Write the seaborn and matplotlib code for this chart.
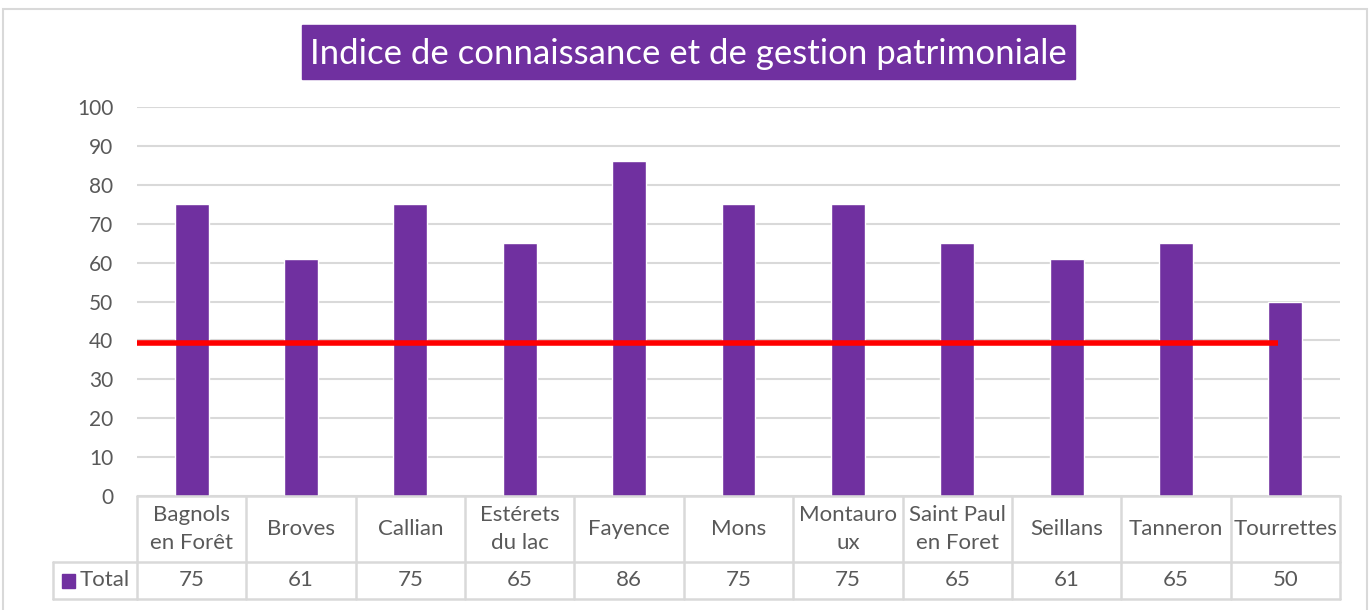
import matplotlib
matplotlib.use("Agg")
import matplotlib.pyplot as plt
import matplotlib.transforms as mtransforms
from matplotlib.patches import Rectangle
import seaborn as sns
import pandas as pd

# ---- data ----
categories = ["Bagnols\nen Forêt", "Broves", "Callian", "Estérets\ndu lac", "Fayence",
              "Mons", "Montauro\nux", "Saint Paul\nen Foret", "Seillans", "Tanneron", "Tourrettes"]
totals = [75, 61, 75, 65, 86, 75, 75, 65, 61, 65, 50]
threshold = 39.3
series_name = "Total"
title = "Indice de connaissance et de gestion patrimoniale"
yticks = [0, 10, 20, 30, 40, 50, 60, 70, 80, 90, 100]

purple = "#7030A0"
grid_c = "#D9D9D9"
text_c = "#595959"

sns.set_theme(style="white")
plt.rcParams['font.family'] = ['Lato', 'DejaVu Sans']

W, H = 1371, 610
fig = plt.figure(figsize=(W / 100, H / 100), dpi=100)
ax = fig.add_axes([137 / W, 1 - 496 / H, (1340 - 137) / W, (496 - 107) / H])

df = pd.DataFrame({"cat": categories, "val": totals})
sns.barplot(data=df, x="cat", y="val", color=purple, width=0.31, ax=ax,
            saturation=1, zorder=3)
ax.hlines(threshold, -0.53, len(categories) - 1 - 0.07, color="#FF0000", lw=4, zorder=4)

ax.set_ylim(0, 100)
ax.set_xlim(-0.5, len(categories) - 0.5)
ax.set_yticks(yticks)
ax.set_yticklabels([str(t) for t in yticks], fontsize=15, color=text_c)
ax.tick_params(axis="y", length=0, pad=17)
ax.set_xticks([])
ax.set_xlabel("")
ax.set_ylabel("")
for s in ax.spines.values():
    s.set_visible(False)
ax.yaxis.grid(True, color=grid_c, lw=1.5, zorder=0)
ax.set_axisbelow(True)

# ---- data table below ----
ph = 496 - 107
r1 = -(562 - 496) / ph
r2 = -(599 - 496) / ph
blend = mtransforms.blended_transform_factory(ax.transData, ax.transAxes)
n = len(categories)
lw_t = 1.8
fs = 16
# horizontal lines
ax.plot([-0.5, n - 0.5], [0, 0], transform=blend, color=grid_c, lw=lw_t, clip_on=False, zorder=5)
ax.plot([-0.5, n - 0.5], [r1, r1], transform=blend, color=grid_c, lw=lw_t, clip_on=False)
ax.plot([-0.5, n - 0.5], [r2, r2], transform=blend, color=grid_c, lw=lw_t, clip_on=False)
# left header cell lines (figure coords)
xl = 53 / W
x0 = 137 / W
yf1 = 1 - 562 / H
yf2 = 1 - 599 / H
fig.add_artist(plt.Line2D([xl, x0], [yf1, yf1], color=grid_c, lw=lw_t))
fig.add_artist(plt.Line2D([xl, x0], [yf2, yf2], color=grid_c, lw=lw_t))
fig.add_artist(plt.Line2D([xl, xl], [yf1, yf2], color=grid_c, lw=lw_t))
# vertical lines
for k in range(n + 1):
    ax.plot([k - 0.5, k - 0.5], [0, r2], transform=blend, color=grid_c, lw=lw_t, clip_on=False)
for i, (c, v) in enumerate(zip(categories, totals)):
    ax.text(i, r1 / 2, c, transform=blend, ha="center", va="center", fontsize=fs,
            color=text_c, linespacing=1.55, clip_on=False)
    ax.text(i, (r1 + r2) / 2, str(v), transform=blend, ha="center", va="center",
            fontsize=fs, color=text_c, clip_on=False)
# legend key
ym = 1 - 580.5 / H
fig.add_artist(Rectangle((62 / W, ym - 7 / H), 13 / W, 14 / H, color=purple,
                         transform=fig.transFigure))
fig.text(80 / W, ym, series_name, ha="left", va="center", fontsize=fs, color=text_c)

# ---- title ----
fig.add_artist(Rectangle((302 / W, 1 - 79 / H), (1075 - 302) / W, 54 / H, color=purple,
                         transform=fig.transFigure))
fig.text(688.5 / W, 1 - 54 / H, title, ha="center", va="center", fontsize=25, color="white")

# ---- outer frame ----
fig.add_artist(Rectangle((3 / W, -0.01), (1367 - 3) / W, 1 - 9 / H + 0.01, fill=False,
                         edgecolor="#D9D9D9", lw=1.5, transform=fig.transFigure))

fig.savefig("out.png", dpi=100)
